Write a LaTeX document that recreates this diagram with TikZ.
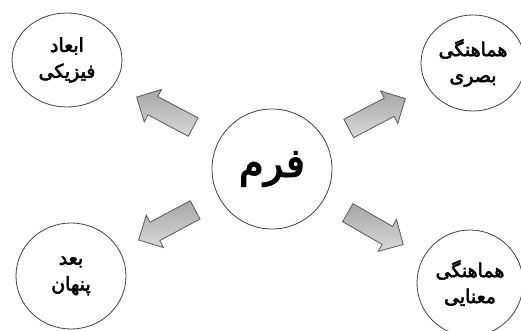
\documentclass[tikz,border=0pt]{standalone}
\usepackage{fontspec}
\TeXXeTstate=1
\newfontfamily\farsifont[Script=Arabic,FakeBold=3]{DejaVu Sans}
\usetikzlibrary{shapes.geometric,shapes.arrows}
\newcommand{\fatext}[1]{\beginR #1\endR}
\tikzset{
  idea/.style={draw=black!75, ellipse, line width=0.8pt, align=center,
               inner sep=0pt, font=\farsifont\fontsize{19}{26}\selectfont},
  core/.style={idea, circle, minimum size=120pt,
               font=\farsifont\fontsize{40}{40}\selectfont},
  fatarrow/.style={single arrow, draw=black!65, line width=0.8pt,
                   top color=black!35, bottom color=black!15,
                   minimum height=64pt, inner sep=10pt,
                   single arrow head extend=8pt,
                   sloped, allow upside down},
}

\begin{document}
\begin{tikzpicture}[x=1pt, y=1pt]
  \useasboundingbox (0,0) rectangle (521,331);
  \node[core] (form) at (272,162) {\fatext{فرم}};
  \node[idea, minimum width=110pt, minimum height=94pt] (physical) at (67,271)
    {\fatext{ابعاد}\\\fatext{فیزیکی}};
  \node[idea, minimum width=104pt, minimum height=96pt] (visual) at (473,268)
    {\fatext{هماهنگی}\\\fatext{بصری}};
  \node[idea, minimum width=110pt, minimum height=106pt] (hidden) at (71,55)
    {\fatext{بعد}\\\fatext{پنهان}};
  \node[idea, minimum width=106pt, minimum height=106pt] (meaning) at (470,48)
    {\fatext{هماهنگی}\\\fatext{معنایی}};

  \path (form.center) -- (physical.center) node[fatarrow, midway] (toPhysical) {};
  \path (form.center) -- (visual.center) node[fatarrow, midway] (toVisual) {};
  \path (form.center) -- (hidden.center) node[fatarrow, midway] (toHidden) {};
  \path (form.center) -- (meaning.center) node[fatarrow, midway] (toMeaning) {};
\end{tikzpicture}
\end{document}
